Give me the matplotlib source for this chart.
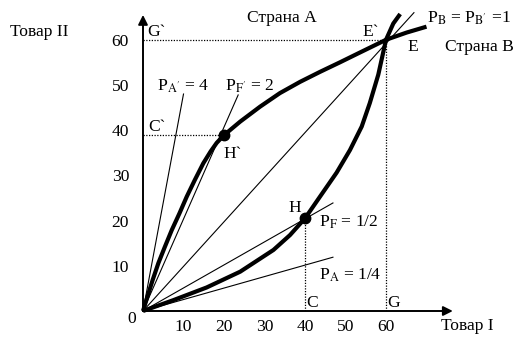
import numpy as np
import matplotlib
matplotlib.use('Agg')
import matplotlib.pyplot as plt

plt.rcParams['font.family'] = ['Liberation Serif', 'DejaVu Serif']
plt.rcParams['mathtext.fontset'] = 'stix'

# production possibility frontiers
countryA_x = [0, 1.1, 2.4, 3.8, 5.4, 7.1, 9.0, 10.8, 12.8, 14.9, 16.7, 18.2, 20.0,
              24.0, 28.9, 33.8, 38.8, 43.7, 48.6, 53.6, 60.0, 65.1, 70.0]
countryA_y = [0, 3.2, 6.9, 10.6, 14.2, 17.9, 21.6, 25.3, 29.0, 32.7, 35.3, 37.2, 38.9,
              41.9, 45.2, 48.2, 50.7, 52.9, 55.0, 57.2, 60.0, 61.6, 62.9]
countryB_x = [0, 7.5, 15.7, 24.0, 32.2, 36.3, 40.0, 43.7, 47.8, 51.1, 54.0, 56.0, 58.1,
              60.0, 61.8, 63.5]
countryB_y = [0, 2.4, 5.2, 8.7, 13.5, 16.8, 20.5, 25.3, 30.6, 35.6, 40.8, 46.0, 52.3,
              60.0, 63.6, 65.7]

# price rays from the origin: end points
ray_x = [10.0, 23.5, 66.9, 46.9, 46.9]
ray_y = [48.0, 47.8, 66.0, 23.9, 11.9]

# special points
H = (40, 20.5)
H1 = (20, 38.9)
E = (60, 60)

xticks = [10, 20, 30, 40, 50, 60]
yticks = [10, 20, 30, 40, 50, 60]

fig = plt.figure(figsize=(5.19, 3.37), dpi=100)
ax = fig.add_axes([143/519, 26/337, 364.5/519, 300.6/337])
ax.set_xlim(0, 90)
ax.set_ylim(0, 66.5)
for s in ax.spines.values():
    s.set_visible(False)

fs = 12.6
ax.set_xticks(xticks)
ax.set_yticks(yticks)
ax.tick_params(length=0, labelsize=fs)
ax.tick_params(axis='y', pad=10)
ax.tick_params(axis='x', pad=6)

# axes with arrows
arr = dict(arrowstyle='-|>', lw=1.4, color='k', mutation_scale=14, shrinkA=0, shrinkB=0)
ax.annotate('', xy=(76.5, 0), xytext=(0, 0), arrowprops=arr, annotation_clip=False)
ax.annotate('', xy=(0, 65.5), xytext=(0, 0), arrowprops=arr, annotation_clip=False)

# dotted guides
dot = dict(color='k', lw=0.9, ls=(0, (1, 1.2)))
ax.plot([0, E[0]], [E[1], E[1]], **dot)
ax.plot([E[0], E[0]], [0, E[1]], **dot)
ax.plot([0, H1[0]], [H1[1], H1[1]], **dot)
ax.plot([H[0], H[0]], [0, H[1]], **dot)

# rays
for rx, ry in zip(ray_x, ray_y):
    ax.plot([0, rx], [0, ry], color='k', lw=0.8, clip_on=False)

# frontiers
ax.plot(countryA_x, countryA_y, color='k', lw=3.0, solid_capstyle='butt',
        solid_joinstyle='round', clip_on=False)
ax.plot(countryB_x, countryB_y, color='k', lw=3.0, solid_capstyle='butt',
        solid_joinstyle='round', clip_on=False)

ax.plot([H[0], H1[0]], [H[1], H1[1]], 'o', color='k', ms=7.5, ls='none')

ax.text(25.7, 64.8, 'Страна А', fontsize=fs, va='center')
ax.text(74.6, 58.4, 'Страна В', fontsize=fs, va='center')
ax.text(70.1, 64.8, r'P$_{\mathrm{B}}$ = P$_{\mathrm{B}^{\prime}}$ =1', fontsize=fs, va='center')
ax.text(54.1, 61.7, 'E`', fontsize=fs, va='center')
ax.text(65.2, 58.4, 'E', fontsize=fs, va='center')
ax.text(1.0, 61.7, 'G`', fontsize=fs, va='center')
ax.text(1.2, 40.7, 'C`', fontsize=fs, va='center')
ax.text(19.8, 34.7, 'H`', fontsize=fs, va='center')
ax.text(3.5, 49.8, r'P$_{\mathrm{A}^{\prime}}$ = 4', fontsize=fs, va='center')
ax.text(20.2, 49.8, r'P$_{\mathrm{F}^{\prime}}$ = 2', fontsize=fs, va='center')
ax.text(35.8, 22.8, 'H', fontsize=fs, va='center')
ax.text(43.5, 19.7, r'P$_{\mathrm{F}}$ = 1/2', fontsize=fs, va='center')
ax.text(43.5, 8.0, r'P$_{\mathrm{A}}$ = 1/4', fontsize=fs, va='center')
ax.text(40.2, 1.8, 'C', fontsize=fs, va='center')
ax.text(60.2, 1.8, 'G', fontsize=fs, va='center')
ax.annotate('0', xy=(0, 0), xytext=(-8, -6), textcoords='offset points',
            fontsize=fs, ha='center', va='center', annotation_clip=False)

fig.text(10/519, 1 - 32/337, 'Товар II', fontsize=fs, va='center', ha='left')
fig.text(441/519, 1 - 326/337, 'Товар I', fontsize=fs, va='center', ha='left')

fig.savefig('out.png', dpi=100)
